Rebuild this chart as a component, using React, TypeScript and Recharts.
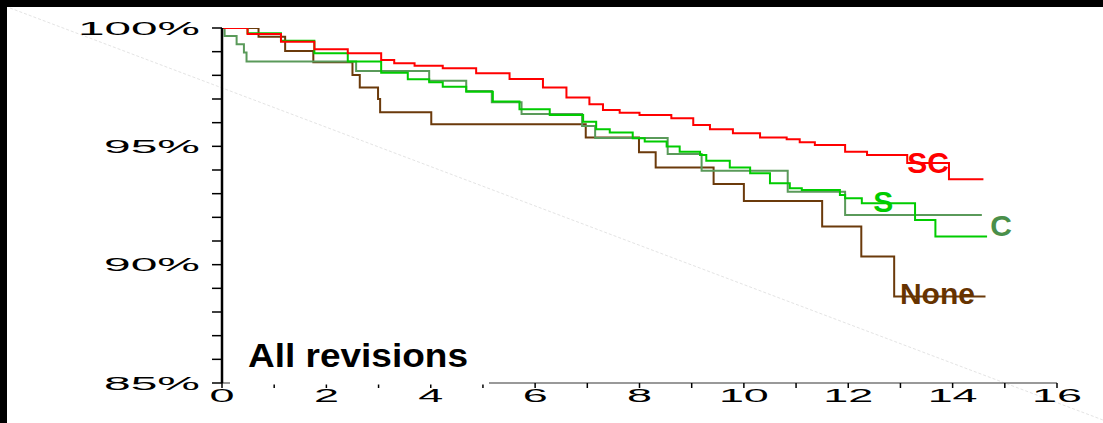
import React from "react";
import { LineChart, Line, XAxis, YAxis, ReferenceDot } from "recharts";

// Kaplan-Meier style survival curves, [years, % without revision]
const scPoints: [number, number][] = [
  [0, 100], [0.49, 99.75], [1.13, 99.42], [1.77, 99.1], [2.41, 98.93], [3.05, 98.65],
  [3.3, 98.51], [3.69, 98.41], [4.23, 98.3], [4.87, 98.09], [5.51, 97.85], [6.15, 97.49],
  [6.6, 97.06], [7.04, 96.78], [7.3, 96.54], [7.62, 96.42], [8.0, 96.32], [8.61, 96.19],
  [9.03, 95.9], [9.35, 95.72], [9.79, 95.55], [10.31, 95.37], [10.82, 95.3], [11.07, 95.17],
  [11.36, 95.06], [11.94, 94.77], [12.36, 94.63], [13.13, 94.3], [13.93, 93.61], [14.59, 93.61],
];

const sPoints: [number, number][] = [
  [0, 100], [0.49, 99.78], [1.13, 99.46], [1.77, 98.93], [2.41, 98.58], [3.05, 98.11],
  [3.56, 97.83], [3.97, 97.71], [4.23, 97.52], [4.68, 97.31], [5.19, 96.89], [5.7, 96.57],
  [6.28, 96.32], [6.92, 96.04], [7.17, 95.72], [7.43, 95.58], [7.87, 95.34], [8.1, 95.2],
  [8.52, 94.99], [8.77, 94.77], [9.16, 94.63], [9.28, 94.39], [9.73, 94.11], [10.12, 93.86],
  [10.5, 93.44], [10.88, 93.23], [11.11, 93.16], [11.84, 92.94], [11.94, 92.81], [12.26, 92.59],
  [13.28, 91.89], [13.67, 91.19], [14.66, 91.19],
];

const cPoints: [number, number][] = [
  [0, 100], [0.05, 99.66], [0.28, 99.31], [0.42, 98.96], [0.47, 98.58], [2.57, 98.18],
  [3.97, 97.77], [4.68, 97.34], [5.17, 96.86], [5.74, 96.37], [6.9, 95.86], [7.15, 95.35],
  [8.54, 94.68], [9.19, 93.97], [10.84, 93.08], [11.94, 92.1], [14.56, 92.1],
];

const nonePoints: [number, number][] = [
  [0, 100], [0.7, 99.63], [1.21, 99.03], [1.75, 98.55], [2.5, 98.01], [2.64, 97.49],
  [2.99, 97.0], [3.03, 96.44], [4.01, 95.93], [6.97, 95.37], [7.99, 94.75], [8.31, 94.11],
  [9.42, 93.41], [10.0, 92.69], [11.5, 91.61], [12.25, 90.34], [12.88, 88.65], [14.63, 88.65],
];

const xTicks = [0, 1, 2, 3, 4, 5, 6, 7, 8, 9, 10, 11, 12, 13, 14, 15, 16];
const yTicks = [85, 86, 87, 88, 89, 90, 91, 92, 93, 94, 95, 96, 97, 98, 99, 100];

const curveLabels = [
  { name: "SC", t: 13.13, s: 93.87, color: "#ff0000" },
  { name: "S", t: 12.48, s: 92.23, color: "#00cc00" },
  { name: "C", t: 14.72, s: 91.21, color: "#4a8f4a" },
  { name: "None", t: 12.99, s: 88.34, color: "#663300" },
];

const toRows = (pts: [number, number][]) => pts.map(([t, s]) => ({ t, s }));

const FONT = "'Liberation Sans', Arial, sans-serif";
const W = 1103;
const H = 423;

function YTick(props: any) {
  const { x, y, payload } = props;
  const v = payload.value;
  if (v % 5 !== 0) return <g />;
  const len = 26 * String(v).length + 44;
  return (
    <text x={x} y={y} dy={6.5} textAnchor="end" fontFamily={FONT} fontSize={18} fill="#000"
      textLength={len} lengthAdjust="spacingAndGlyphs">
      {v + "%"}
    </text>
  );
}

function XTick(props: any) {
  const { x, y, payload } = props;
  const v = payload.value;
  if (v % 2 !== 0) return <g />;
  const s = String(v);
  return (
    <text x={x} y={y} dy={14} textAnchor="middle" fontFamily={FONT} fontSize={18} fill="#000"
      textLength={25 * s.length} lengthAdjust="spacingAndGlyphs">
      {s}
    </text>
  );
}

export default function App() {
  return (
    <div style={{ position: "absolute", left: 0, top: 0, width: W, height: H, background: "#fff", overflow: "hidden" }}>
      <svg width={W} height={H} style={{ position: "absolute", left: 0, top: 0 }}>
        <line x1={10} y1={8} x2={1103} y2={420} stroke="#e4e4e4" strokeWidth={1} strokeDasharray="3 2" />
      </svg>
      <LineChart width={W} height={H} margin={{ top: 28, right: 46, bottom: 0, left: 0 }}
        style={{ position: "absolute", left: 0, top: 0 }}>
        <XAxis dataKey="t" type="number" domain={[0, 16]} ticks={xTicks} interval={0}
          allowDataOverflow height={40} tickSize={5} tickMargin={0}
          axisLine={{ stroke: "#777", strokeWidth: 1.5 }} tickLine={{ stroke: "#000", strokeWidth: 1.5 }}
          tick={<XTick />} />
        <YAxis type="number" domain={[85, 100]} ticks={yTicks} interval={0} allowDataOverflow
          width={222} tickSize={10} tickMargin={12}
          axisLine={{ stroke: "#000", strokeWidth: 2.5 }} tickLine={{ stroke: "#000", strokeWidth: 1.5 }}
          tick={<YTick />} />
        <Line data={toRows(nonePoints)} dataKey="s" type="stepAfter" stroke="#6b3a0b" strokeWidth={2}
          dot={false} isAnimationActive={false} />
        <Line data={toRows(cPoints)} dataKey="s" type="stepAfter" stroke="#5a9a5a" strokeWidth={2}
          dot={false} isAnimationActive={false} />
        <Line data={toRows(sPoints)} dataKey="s" type="stepAfter" stroke="#00cc00" strokeWidth={2}
          dot={false} isAnimationActive={false} />
        <Line data={toRows(scPoints)} dataKey="s" type="stepAfter" stroke="#ff0000" strokeWidth={2}
          dot={false} isAnimationActive={false} />
        {curveLabels.map((l) => (
          <ReferenceDot key={l.name} x={l.t} y={l.s} r={1} ifOverflow="visible"
            shape={(p: any) => (
              <text x={p.cx} y={p.cy} fontFamily={FONT} fontWeight="bold" fontSize={30} fill={l.color}>
                {l.name}
              </text>
            )} />
        ))}
      </LineChart>
      <svg width={W} height={H} style={{ position: "absolute", left: 0, top: 0, pointerEvents: "none" }}>
        <rect x={230} y={325} width={259} height={59.5} fill="#fff" />
        <text x={248} y={367} fontFamily={FONT} fontWeight="bold" fontSize={33} fill="#000"
          textLength={220} lengthAdjust="spacingAndGlyphs">
          All revisions
        </text>
      </svg>
      <div style={{ position: "absolute", left: 0, top: 0, width: W, height: 7, background: "#000" }} />
      <div style={{ position: "absolute", left: 0, top: 0, width: 7, height: H, background: "#000" }} />
    </div>
  );
}
